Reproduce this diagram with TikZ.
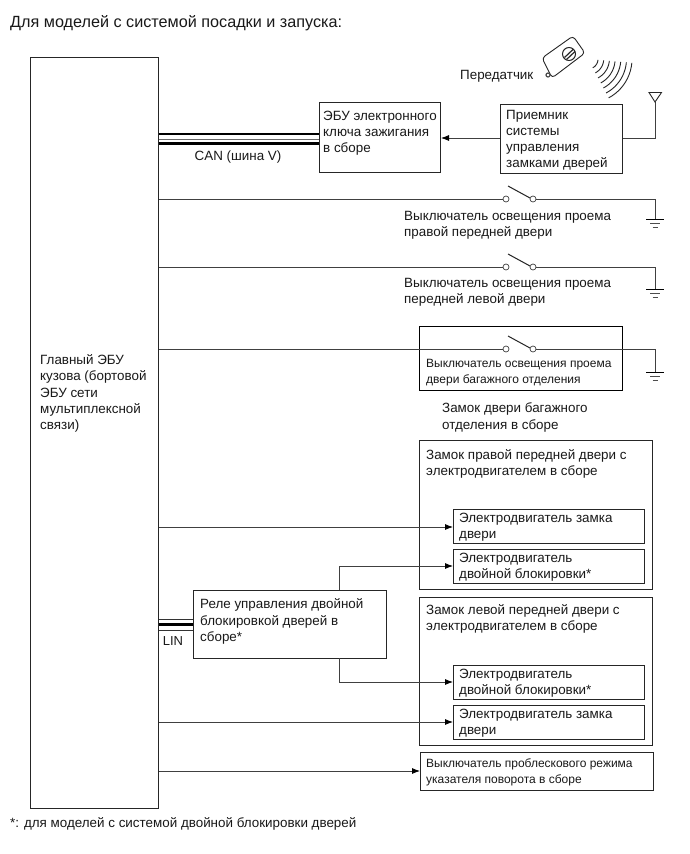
\documentclass[tikz,border=0pt]{standalone}
\usepackage{fontspec}
\setmainfont{Liberation Sans}
\usetikzlibrary{arrows.meta}
\tikzset{
  wire/.style={draw=black!75,line width=0.8pt},
  box/.style={draw=black!85,line width=1pt,fill=white},
  arr/.style={wire,-{Latex[length=8pt,width=6pt,black]}},
  txt/.style={anchor=west,inner sep=0pt,yshift=-1.5pt,text=black!90,font=\fontsize{13.4}{16.1}\selectfont,align=left},
  small/.style={txt,font=\fontsize{12}{16}\selectfont},
  contact/.style={circle,draw=black!75,line width=0.7pt,fill=white,minimum size=6pt,inner sep=0pt},
}
\newcommand{\switchat}[2]{%
  \node[contact] (#1a) at (506,#2) {};
  \node[contact] (#1b) at (533,#2) {};
  \draw[black!85,line width=1pt] (508,#2-13) -- (530,#2-1);
}
\newcommand{\groundat}[3]{% name, x, y
  \coordinate (#1) at (#2,#3);
  \draw[black,line width=1pt] (#2-9,#3) -- (#2+9,#3);
  \draw[black!70,line width=0.7pt] (#2-5,#3+4) -- (#2+5,#3+4);
  \draw[black!70,line width=0.7pt] (#2-2.5,#3+8) -- (#2+2.5,#3+8);
}
\begin{document}
\begin{tikzpicture}[x=1pt,y=-1pt]
\useasboundingbox (0,0) rectangle (690,854);
\fill[white] (0,0) rectangle (690,854);

\node[txt,font=\fontsize{16.2}{18}\selectfont] at (10,22) {Для моделей с системой посадки и запуска:};
\node[txt] at (460,75) {Передатчик};

% main ECU
\node[box,minimum width=128pt,minimum height=751pt,anchor=north west,inner sep=0pt] (main) at (30,57) {};
\node[txt] at (40,392) {Главный ЭБУ\\кузова (бортовой\\ЭБУ сети\\мультиплексной\\связи)};

% key ECU and receiver
\node[box,minimum width=121pt,minimum height=70pt,anchor=north west,inner sep=0pt] (keyecu) at (319,102) {};
\node[txt] at (323,132) {ЭБУ электронного\\ключа зажигания\\в сборе};
\node[box,minimum width=122pt,minimum height=69pt,anchor=north west,inner sep=0pt] (recv) at (500,104) {};
\node[txt] at (506,139) {Приемник\\системы\\управления\\замками дверей};

% CAN bus
\coordinate (c1a) at (158.5,134); \coordinate (c1b) at (318.5,134);
\coordinate (c2a) at (158.5,139); \coordinate (c2b) at (318.5,139);
\coordinate (c3a) at (158.5,143.5); \coordinate (c3b) at (318.5,143.5);
\draw[black,line width=2.8pt] (c1a) -- (c1b);
\draw[black!60,line width=0.8pt] (c2a) -- (c2b);
\draw[black,line width=2.8pt] (c3a) -- (c3b);
\node[txt,anchor=center] at (238,156) {CAN (шина V)};

\draw[arr] (recv.west |- 0,138) -- (keyecu.east |- 0,138);

% antenna
\coordinate (ant) at (655,102);
\draw[wire] (recv.east |- 0,138) -| (ant);
\draw[black!85,line width=0.9pt] (ant) -- (649,92.5) -- (661.5,92.5) -- cycle;

% key fob
\draw[black!85,line width=0.9pt,fill=white,rounded corners=3.5pt]
  (542,58) -- (573,36) -- (585,53) -- (552,78) -- cycle;
\draw[black!85,line width=1pt,fill=white] (569,54) circle[radius=6.5pt];
\draw[black!85,line width=1.2pt] (564.5,57.5) -- (573,49.5);
\draw[black!85,line width=1.2pt] (566.5,59.5) -- (575,51.5);
\draw[black!70,line width=1.2pt] (548,75) circle[radius=2pt];

% waves
\foreach \r in {10,15.7,21.4,27.1,32.8,38.5,44}{
  \draw[black!85,line width=0.9pt] plot[domain=5:62,samples=12,smooth] ({588+\r*cos(\x)},{59+\r*sin(\x)});
}

% switches
\switchat{s1}{199}
\draw[wire] (main.east |- 0,199) -- (s1a);
\groundat{g1}{655}{219}
\draw[wire] (s1b) -- (g1 |- 0,199) -- (g1);
\node[txt] at (404,223.5) {Выключатель освещения проема\\правой передней двери};

\switchat{s2}{267}
\draw[wire] (main.east |- 0,267) -- (s2a);
\groundat{g2}{655}{289}
\draw[wire] (s2b) -- (g2 |- 0,267) -- (g2);
\node[txt] at (404,291) {Выключатель освещения проема\\передней левой двери};

\node[draw=black,line width=1pt,minimum width=203pt,minimum height=64pt,anchor=north west,inner sep=0pt] (trunkbox) at (419,326) {};
\switchat{s3}{349}
\draw[wire] (main.east |- 0,349) -- (s3a);
\groundat{g3}{655}{372}
\draw[wire] (s3b) -- (g3 |- 0,349) -- (g3);
\node[small] at (426,371) {Выключатель освещения проема\\двери багажного отделения};

\node[txt] at (442,416) {Замок двери багажного\\отделения в сборе};

% door locks
\node[box,minimum width=233pt,minimum height=149pt,anchor=north west,inner sep=0pt] (rlock) at (419,440) {};
\node[txt] at (426,462) {Замок правой передней двери с\\электродвигателем в сборе};
\node[box,minimum width=233pt,minimum height=148pt,anchor=north west,inner sep=0pt] (llock) at (419,597) {};
\node[txt] at (426,617) {Замок левой передней двери с\\электродвигателем в сборе};

\node[box,minimum width=191pt,minimum height=34pt,anchor=north west,inner sep=0pt] (m1) at (453,509) {};
\node[txt] at (459,526) {Электродвигатель замка\\двери};
\node[box,minimum width=191pt,minimum height=34pt,anchor=north west,inner sep=0pt] (m2) at (453,549) {};
\node[txt] at (459,566) {Электродвигатель\\двойной блокировки*};
\node[box,minimum width=191pt,minimum height=34pt,anchor=north west,inner sep=0pt] (m3) at (453,665) {};
\node[txt] at (459,682) {Электродвигатель\\двойной блокировки*};
\node[box,minimum width=191pt,minimum height=34pt,anchor=north west,inner sep=0pt] (m4) at (453,705) {};
\node[txt] at (459,722) {Электродвигатель замка\\двери};

\node[box,minimum width=233pt,minimum height=38pt,anchor=north west,inner sep=0pt] (flash) at (420,752) {};
\node[small] at (426,771) {Выключатель проблескового режима\\указателя поворота в сборе};

% relay
\node[box,minimum width=193pt,minimum height=68pt,anchor=north west,inner sep=0pt] (relay) at (193,590) {};
\node[txt] at (200,620) {Реле управления двойной\\блокировкой дверей в\\сборе*};

% LIN
\coordinate (l1a) at (158.5,619); \coordinate (l1b) at (192.5,619);
\coordinate (l2a) at (158.5,624.5); \coordinate (l2b) at (192.5,624.5);
\coordinate (l3a) at (158.5,630); \coordinate (l3b) at (192.5,630);
\draw[black!80,line width=0.8pt] (l1a) -- (l1b);
\draw[black,line width=2.2pt] (l2a) -- (l2b);
\draw[black!80,line width=0.8pt] (l3a) -- (l3b);
\node[txt,anchor=center,font=\fontsize{13}{14}\selectfont] at (173,639.5) {LIN};

% arrows
\draw[arr] (main.east |- 0,527) -- (m1.west |- 0,527);
\draw[arr] (339,590) -- (339,566) -- (m2.west |- 0,566);
\draw[arr] (339,658) -- (339,682) -- (m3.west |- 0,682);
\draw[arr] (main.east |- 0,722) -- (m4.west |- 0,722);
\draw[arr] (main.east |- 0,771) -- (flash.west |- 0,771);

\node[txt] at (10,822) {*: для моделей с системой двойной блокировки дверей};
\end{tikzpicture}
\end{document}
